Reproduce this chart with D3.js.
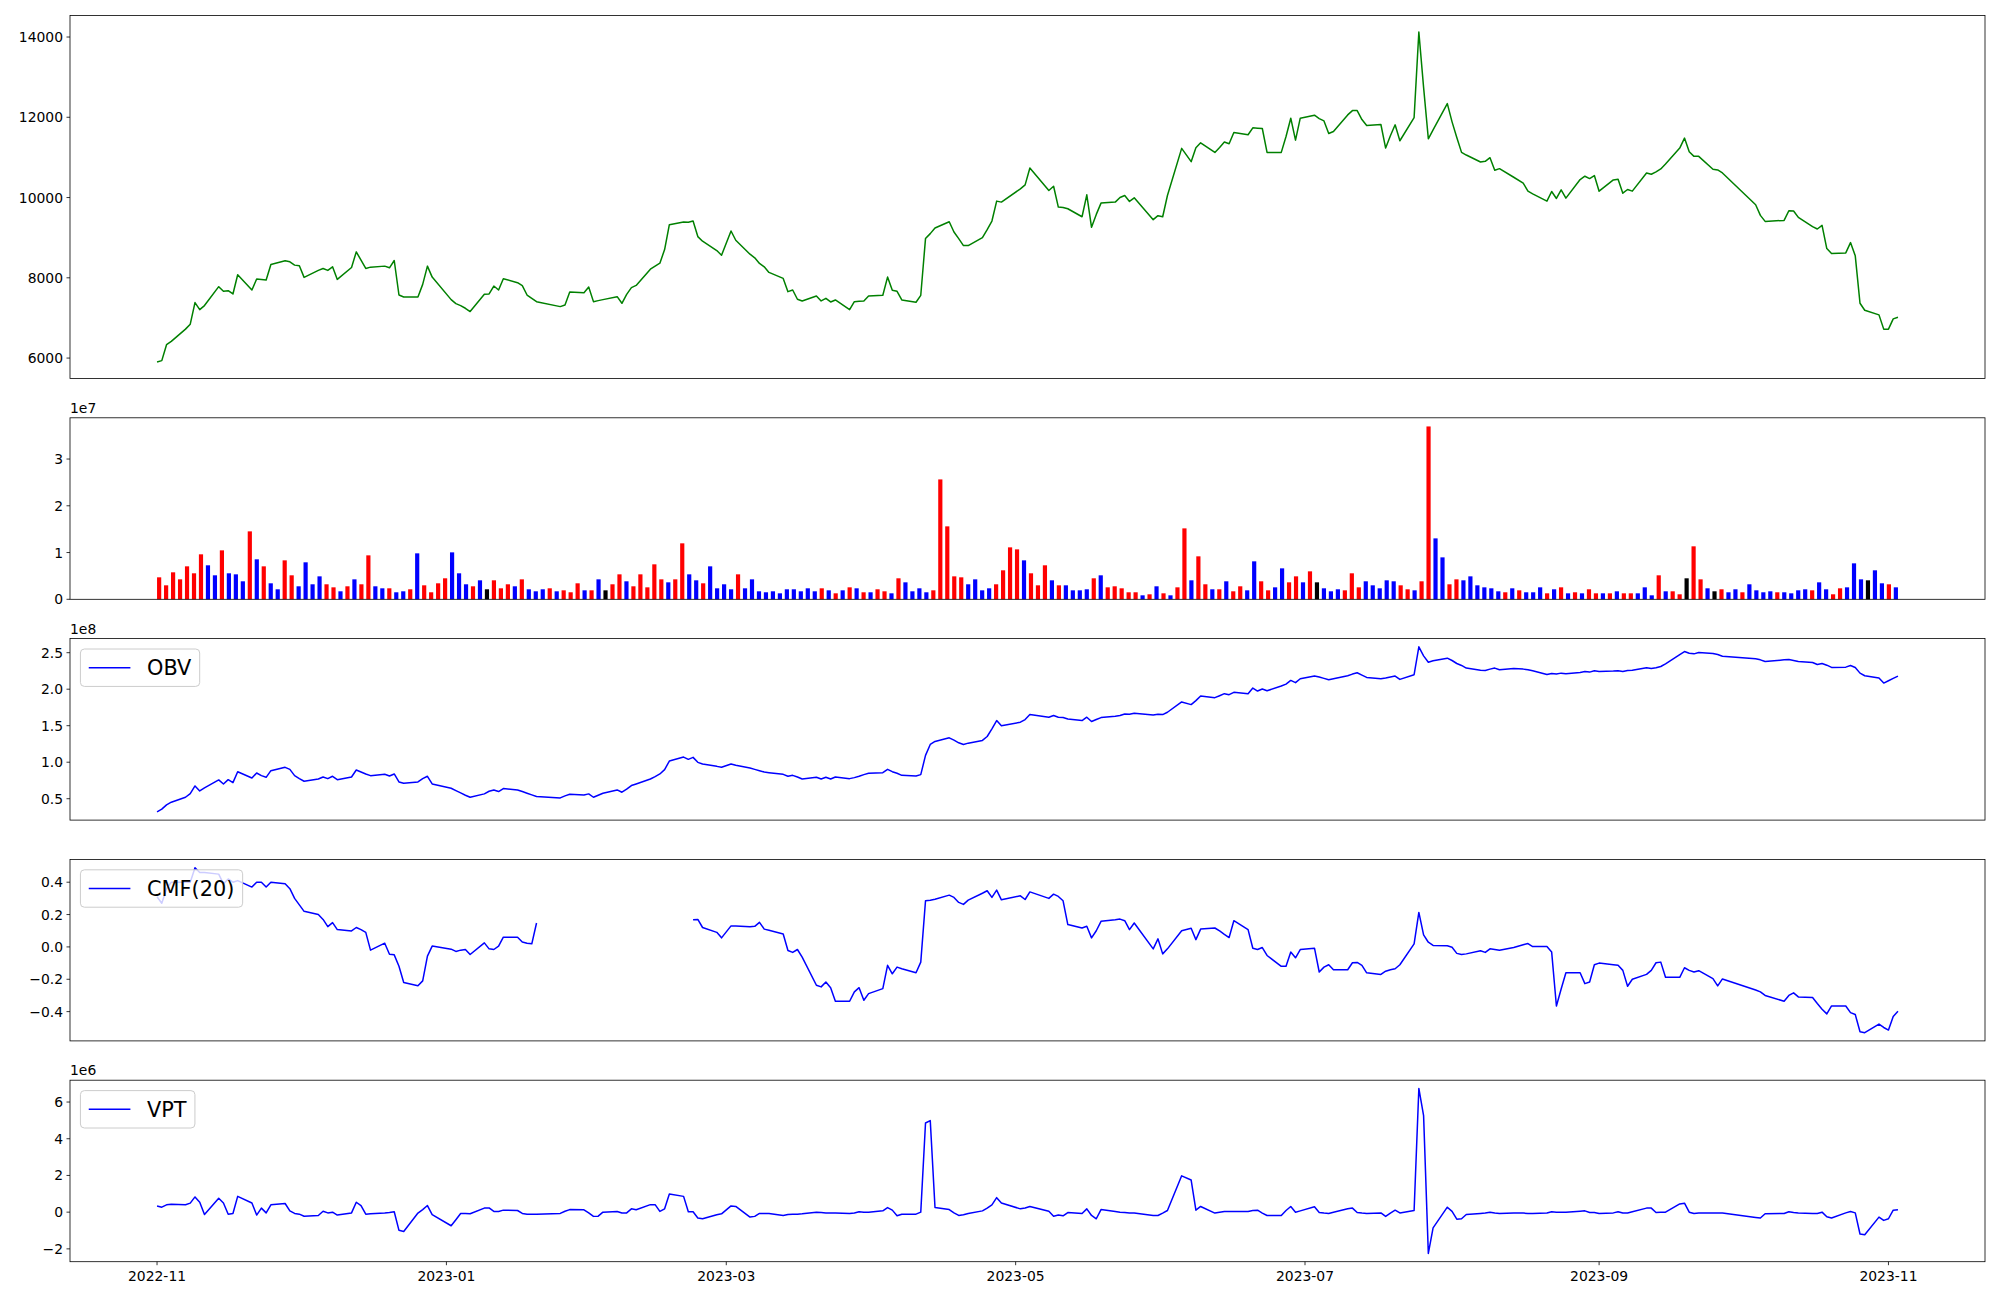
<!DOCTYPE html>
<html><head><meta charset="utf-8">
<script src="https://cdn.jsdelivr.net/npm/d3@7/dist/d3.min.js"></script>
<style>body{margin:0;background:#fff}svg{display:block}text{font-family:"DejaVu Sans",sans-serif}</style>
</head><body><svg id="c" width="2000" height="1300"></svg>
<script>
// ---- calendar (KRX trading days) ----
const startDate = "2022-11-01", endDate = "2023-11-03";
const holidays = ["2022-12-30","2023-01-23","2023-01-24","2023-03-01","2023-05-01","2023-05-05","2023-05-29",
  "2023-06-06","2023-08-15","2023-09-28","2023-09-29","2023-10-02","2023-10-03","2023-10-09"];

// ---- data ----
const close = [5902,5936,6333,6415,6721,6845,7382,7208,7308,7779,
7663,7679,7597,8076,7696,7969,7960,7944,8332,8423,
8398,8316,8299,8010,8184,8233,8184,8274,7960,8258,
8646,8440,8233,8266,8291,8249,8431,7571,7522,7522,
7836,8291,8018,7456,7357,7307,7241,7159,7588,7597,
7795,7696,7977,7878,7803,7571,7489,7406,7282,7324,
7646,7629,7770,7406,7431,7456,7530,7365,7588,7754,
7811,8216,8291,8365,8704,9324,9390,9382,9415,9027,
8911,8679,8563,9167,8936,8589,8498,8357,8274,8134,
7985,7655,7696,7465,7423,7547,7423,7489,7398,7448,
7208,7406,7415,7423,7547,7564,8018,7688,7663,7448,
7390,7564,8977,9101,9241,9398,9142,8977,8803,8803,
9002,9200,9415,9911,9886,10217,10315,10737,10175,10282,
9762,9754,9721,9522,10068,9258,9580,9861,9886,10001,
10051,9903,9994,9449,9548,9522,10051,11225,10894,11241,
11365,11125,11249,11382,11341,11622,11564,11737,11729,11720,
11125,11125,11522,11977,11431,11977,12051,11968,11910,11596,
11646,12059,12167,12167,11944,11795,11820,11233,11539,11812,
11415,11993,14125,12745,11464,11688,12340,11886,11498,11125,
11059,10886,10902,10993,10679,10720,10506,10357,10159,10092,
9911,10150,9977,10192,9985,10448,10531,10473,10547,10159,
10440,10456,10109,10200,10159,10613,10580,10638,10713,10837,
11233,11481,11142,11026,11026,10704,10687,10613,9820,9555,
9406,9431,9671,9663,9506,9274,9216,9307,8729,8605,
8621,8877,8547,7365,7191,7076,6721,6721,6977,7018];

// volume in millions of shares
const volumeM = [4.70,2.99,5.77,4.27,7.05,5.56,9.62,7.27,5.13,10.47,
5.56,5.34,3.85,14.53,8.55,7.05,3.42,2.14,8.33,5.13,
2.78,7.91,3.21,4.91,3.21,2.56,1.71,2.78,4.27,3.21,
9.40,2.78,2.35,2.35,1.50,1.71,2.14,9.83,2.99,1.50,
3.42,4.49,10.04,5.56,3.21,2.78,4.06,2.14,4.06,2.35,
3.21,2.78,4.27,2.14,1.71,2.14,2.35,1.71,1.92,1.50,
3.42,1.92,1.92,4.27,1.92,3.21,5.34,3.85,2.78,5.34,
2.56,7.48,4.27,3.63,4.27,11.97,5.34,4.06,3.42,7.05,
2.35,3.21,2.14,5.34,2.35,4.27,1.71,1.50,1.71,1.28,
2.14,2.14,1.71,2.35,1.71,2.35,1.92,1.28,1.92,2.56,
2.35,1.50,1.50,2.14,1.71,1.28,4.49,3.63,1.71,2.35,
1.50,1.92,25.64,15.60,4.91,4.70,3.21,4.27,1.92,2.35,
3.21,6.20,11.11,10.68,8.33,5.56,2.99,7.27,4.06,2.99,
2.99,1.92,1.92,2.14,4.49,5.13,2.56,2.78,2.35,1.50,
1.50,0.85,1.07,2.78,1.28,0.85,2.56,15.17,4.06,9.19,
3.21,2.14,2.14,3.85,1.71,2.78,1.92,8.12,3.85,1.92,
2.56,6.62,3.63,4.91,3.63,5.98,3.63,2.35,1.71,2.14,
1.92,5.56,2.56,3.85,2.99,2.35,4.06,3.85,2.99,2.14,
1.92,3.85,36.97,13.03,8.97,3.21,4.27,4.06,4.91,2.99,
2.56,2.35,1.71,1.50,2.35,1.92,1.50,1.50,2.56,1.28,
2.14,2.56,1.28,1.50,1.28,2.14,1.28,1.28,1.28,1.71,
1.28,1.28,1.28,2.56,0.85,5.13,1.71,1.71,1.07,4.49,
11.33,4.27,2.35,1.71,2.14,1.50,2.14,1.50,3.21,1.92,
1.50,1.71,1.50,1.50,1.28,1.92,2.14,1.92,3.63,2.14,
1.07,2.35,2.56,7.69,4.27,4.06,6.20,3.42,3.21,2.56];

// r = up day, b = down day, k = unchanged
const direction = ("rrrrrrrbbr"+"bbbrbrbbrr"+"bbbbrrbrbr"+"rbbrbbrbrr"+"rrbbbrbkrr"+
"rbrbbbrbrr"+"rbrbkrrbrr"+"rrrbrrbbrb"+"bbbrbbbbbb"+"bbbbbrbrbr"+
"brbrrbrbbb"+"brrrrrbbbb"+"rrrrbrrrbr"+"bbbbrbrrrr"+"rbrbrbrrbr"+
"rbrbrrbbrr"+"bbrrbrkbbb"+"rrrbbbbbrr"+"brrbbrrbbb"+"bbbrbrbbbr"+
"brbrbrrbrb"+"rrbbbrbrrk"+"rrbkrbbrbb"+"bbrbbbbrbb"+"rrbbbkbbrb").split("");

// OBV in millions
const obvM = [32.0,35.7,41.6,45.2,52.0,57.0,67.5,60.7,64.8,75.7,
70.2,76.1,72.0,87.0,78.4,85.2,81.6,79.3,88.4,93.0,
90.2,81.6,77.5,73.9,77.0,79.8,77.5,80.7,76.1,79.8,
89.3,86.6,83.9,81.6,83.4,81.1,83.9,73.0,71.1,73.0,
77.5,80.7,70.2,64.3,61.1,58.0,54.8,52.0,56.6,60.2,
62.0,59.8,63.9,62.0,59.8,57.5,55.2,53.0,51.1,53.9,
56.1,55.2,56.6,52.0,54.8,57.5,62.0,58.9,63.0,68.0,
70.2,77.0,80.2,83.9,89.8,101.6,107.0,103.9,106.6,99.8,
97.5,94.3,93.0,97.5,95.7,92.0,90.2,88.4,86.6,85.7,
83.4,80.7,82.0,79.8,77.0,79.3,77.0,79.3,77.0,79.8,
77.5,78.9,80.7,83.0,84.8,85.7,90.2,87.0,84.8,82.0,
81.1,83.0,109.3,124.3,128.4,133.4,130.2,126.6,124.3,126.1,
129.8,135.2,145.7,157.0,149.8,154.8,158.4,165.2,161.6,163.9,
161.6,161.1,159.3,157.0,161.6,155.7,158.4,161.1,162.9,163.9,
166.1,165.7,167.0,164.8,165.7,165.2,168.4,182.5,178.9,184.3,
190.7,188.4,191.1,193.9,192.5,195.7,193.9,201.6,197.5,200.2,
197.9,204.3,207.0,212.0,208.9,214.3,218.0,216.6,214.8,212.9,
214.3,218.4,220.7,222.5,219.3,216.1,214.3,215.2,216.6,218.0,
213.4,219.8,258.0,245.7,237.0,238.9,242.5,239.3,235.2,232.5,
228.9,226.1,225.7,227.5,228.9,226.6,228.4,227.5,226.6,225.2,
220.2,221.6,220.7,222.0,221.1,223.0,224.3,223.4,225.2,224.3,
224.8,225.2,224.3,225.7,226.1,229.3,228.4,229.3,231.1,234.8,
247.5,251.6,249.3,248.4,250.2,248.9,247.5,245.2,241.6,240.2,
237.9,240.2,240.7,239.3,237.9,236.6,233.9,235.2,232.9,229.8,
230.2,232.5,229.8,222.0,218.4,215.2,208.4,211.6,214.8,218.0];

const N = null;
const cmf20 = [0.31,0.27,0.36,0.40,0.40,0.40,0.49,0.46,0.46,0.45,
0.39,0.42,0.40,0.41,0.37,0.40,0.40,0.37,0.40,0.39,
0.36,0.30,0.26,0.22,0.20,0.17,0.125,0.15,0.107,0.099,
0.12,0.107,0.09,-0.02,0.023,-0.045,-0.049,-0.12,-0.22,-0.24,
-0.21,-0.057,0.005,-0.014,-0.028,-0.02,-0.016,-0.047,0.025,-0.012,
-0.016,0.005,0.06,0.06,0.03,0.023,0.019,0.148,N,N,
N,N,N,N,N,N,N,N,N,N,
N,N,N,N,N,N,N,N,0.168,0.17,
0.12,0.09,0.056,0.13,0.13,0.125,0.127,0.152,0.11,0.103,
0.08,-0.022,-0.034,-0.016,-0.063,-0.237,-0.247,-0.217,-0.252,-0.336,
-0.336,-0.278,-0.252,-0.33,-0.289,-0.258,-0.114,-0.166,-0.125,-0.135,
-0.16,-0.094,0.285,0.289,0.295,0.32,0.306,0.275,0.263,0.289,
0.332,0.347,0.306,0.351,0.291,0.316,0.293,0.34,0.30,0.326,
0.312,0.285,0.138,0.117,0.128,0.056,0.10,0.158,0.168,0.172,
0.162,0.107,0.148,-0.012,0.05,-0.043,-0.012,0.10,0.115,0.045,
0.11,0.117,0.099,0.078,0.058,0.162,0.107,-0.008,-0.016,-0.004,
-0.053,-0.12,-0.12,-0.032,-0.067,-0.016,-0.008,-0.155,-0.125,-0.11,
-0.141,-0.141,-0.098,-0.096,-0.114,-0.16,-0.17,-0.15,-0.141,-0.135,
-0.11,0.019,0.213,0.074,0.029,0.009,0.007,-0.002,-0.04,-0.047,
-0.043,-0.024,-0.034,-0.012,-0.016,-0.02,-0.004,0.013,0.021,0.002,
0.002,-0.032,-0.365,-0.26,-0.16,-0.16,-0.227,-0.217,-0.11,-0.10,
-0.11,-0.114,-0.145,-0.243,-0.20,-0.17,-0.145,-0.098,-0.094,-0.188,
-0.188,-0.129,-0.145,-0.155,-0.147,-0.196,-0.241,-0.198,-0.266,-0.278,
-0.30,-0.336,-0.30,-0.284,-0.309,-0.313,-0.35,-0.385,-0.414,-0.365,
-0.365,-0.406,-0.418,-0.524,-0.53,-0.477,-0.498,-0.514,-0.43,-0.397];

// VPT in millions
const vptM = [0.34,0.27,0.40,0.43,0.40,0.49,0.83,0.54,-0.13,0.76,
0.50,-0.11,-0.07,0.86,0.50,-0.16,0.22,-0.04,0.40,0.47,
0.07,-0.07,-0.11,-0.22,-0.18,0.05,-0.04,0.00,-0.16,-0.04,
0.54,0.36,-0.11,-0.09,-0.05,-0.02,0.02,-0.99,-1.05,-0.05,
0.14,0.36,-0.13,-0.74,-0.41,-0.07,-0.07,-0.09,0.22,0.23,
0.04,0.04,0.11,0.09,-0.07,-0.11,-0.11,-0.11,-0.07,0.05,
0.14,0.13,-0.04,-0.23,-0.22,0.00,0.04,-0.05,-0.04,0.18,
0.13,0.41,0.41,0.04,0.18,0.99,0.86,0.02,0.02,-0.32,
-0.36,-0.14,-0.09,0.34,0.31,-0.27,-0.23,-0.07,-0.07,-0.07,
-0.18,-0.13,-0.11,-0.11,-0.09,0.00,-0.02,-0.04,-0.04,-0.05,
-0.07,-0.05,0.02,0.00,0.00,0.07,0.25,0.11,-0.20,-0.11,
-0.11,0.00,4.86,4.99,0.25,0.14,-0.04,-0.18,-0.14,-0.07,
0.07,0.22,0.40,0.79,0.50,0.18,0.23,0.31,0.05,-0.22,
-0.16,-0.20,-0.02,-0.07,0.18,-0.18,-0.36,0.14,0.04,0.00,
-0.02,-0.04,-0.05,-0.18,-0.18,-0.05,0.09,1.98,1.75,0.11,
0.31,-0.05,0.00,0.04,0.04,0.04,0.04,0.09,0.11,-0.05,
-0.18,-0.18,0.09,0.31,0.00,0.07,0.29,-0.02,-0.05,-0.07,
0.00,0.18,0.22,-0.02,-0.05,-0.07,-0.04,-0.23,-0.05,0.11,
-0.04,0.09,6.74,5.26,-2.25,-0.86,0.27,0.04,-0.38,-0.36,
-0.13,-0.07,-0.05,0.00,-0.05,-0.07,-0.05,-0.05,-0.07,-0.07,
-0.05,0.02,0.00,0.00,0.00,0.05,0.07,-0.02,-0.02,-0.07,
-0.04,0.02,-0.05,-0.05,0.02,0.22,0.22,-0.02,0.00,0.00,
0.45,0.49,0.00,-0.07,-0.04,-0.04,-0.04,-0.04,-0.29,-0.32,
-0.09,-0.07,0.02,-0.02,-0.04,-0.07,-0.07,0.00,-0.25,-0.32,
-0.04,0.04,-0.04,-1.19,-1.23,-0.27,-0.45,-0.36,0.11,0.13];

// tick values / labels
const priceTicks = [6000,8000,10000,12000,14000];
const volTicks = [0,1,2,3];            // x 1e7
const obvTicks = [0.5,1.0,1.5,2.0,2.5]; // x 1e8
const cmfTicks = [-0.4,-0.2,0.0,0.2,0.4];
const vptTicks = [-2,0,2,4,6];         // x 1e6
const monthTicks = ["2022-11-01","2023-01-01","2023-03-01","2023-05-01","2023-07-01","2023-09-01","2023-11-01"];

// ---- build dates ----
const parse = d3.utcParse("%Y-%m-%d"), fmt = d3.utcFormat("%Y-%m-%d");
const hol = new Set(holidays);
const dates = d3.utcDays(parse(startDate), d3.utcDay.offset(parse(endDate),1))
  .filter(d => d.getUTCDay()!==0 && d.getUTCDay()!==6 && !hol.has(fmt(d)));

// ---- layout ----
const svg = d3.select("#c");
const L = 70, R = 1985;
const unit = 181.5, gap = 39.3, top0 = 15.5;
const ratios = [2,1,1,1,1];
let acc = top0;
const panels = ratios.map(r => { const t = acc, b = acc + r*unit; acc = b + gap; return {t, b}; });
const FS = 13.9;
const minus = s => String(s).replace("-", "\u2212");

function pad(ext){ const s = ext[1]-ext[0]; return [ext[0]-0.05*s, ext[1]+0.05*s]; }

const tExt = d3.extent(dates);
const tSpan = tExt[1]-tExt[0];
const x = d3.scaleUtc().domain([new Date(+tExt[0]-0.05*tSpan), new Date(+tExt[1]+0.05*tSpan)]).range([L, R]);

function yAxis(p, y, ticks, fmtF){
  const g = svg.append("g");
  ticks.forEach(v => {
    const yy = y(v);
    g.append("line").attr("x1", L-3.5).attr("x2", L).attr("y1", yy).attr("y2", yy).attr("stroke","#000").attr("stroke-width",0.8);
    g.append("text").attr("x", L-7).attr("y", yy+5).attr("text-anchor","end").attr("font-size",FS).text(fmtF(v));
  });
}
function frame(p){
  svg.append("rect").attr("x",L).attr("y",p.t).attr("width",R-L).attr("height",p.b-p.t)
    .attr("fill","none").attr("stroke","#000").attr("stroke-width",0.8);
}
function offsetText(p, s){
  svg.append("text").attr("x", L).attr("y", p.t-5).attr("font-size",FS).text(s);
}
function legend(p, label){
  const fs = 20.83, bp = 0.4*fs, hl = 2*fs, htp = 0.8*fs;
  const x0 = L + 0.5*fs, y0 = p.t + 0.5*fs, h = 37.4;
  const g = svg.append("g");
  const rect = g.append("rect").attr("x",x0).attr("y",y0).attr("height",h).attr("rx",4).attr("ry",4)
    .attr("fill","#fff").attr("fill-opacity",0.8).attr("stroke","#cccccc").attr("stroke-width",1);
  g.append("line").attr("x1",x0+bp).attr("x2",x0+bp+hl).attr("y1",y0+h/2).attr("y2",y0+h/2)
    .attr("stroke","blue").attr("stroke-width",1.5);
  const t = g.append("text").attr("x",x0+bp+hl+htp).attr("y",y0+h/2+7.5).attr("font-size",fs).text(label);
  const w = t.node().getComputedTextLength();
  rect.attr("width", bp+hl+htp+w+bp);
}
function linePanel(p, values, color, ticks, fmtF, scaleF){
  const y = d3.scaleLinear().domain(pad(d3.extent(values.filter(v=>v!==null)))).range([p.b, p.t]);
  const line = d3.line().defined(d => d[1]!==null).x(d => x(d[0])).y(d => y(d[1]));
  svg.append("path").datum(dates.map((d,i)=>[d, values[i]])).attr("d", line)
    .attr("fill","none").attr("stroke",color).attr("stroke-width",1.5).attr("stroke-linejoin","round");
  yAxis(p, v => y(scaleF(v)), ticks, fmtF);
  return y;
}

// Panel 1: price
linePanel(panels[0], close, "green", priceTicks, v => String(v), v => v);
frame(panels[0]);

// Panel 2: volume (plotted by bar index)
{
  const p = panels[1];
  const n = volumeM.length, w = 0.6;
  const lo = -w/2, hi = n-1+w/2, s = hi-lo;
  const xb = d3.scaleLinear().domain([lo-0.05*s, hi+0.05*s]).range([L, R]);
  const y = d3.scaleLinear().domain([0, d3.max(volumeM)*1.05]).range([p.b, p.t]);
  const col = {r:"red", b:"blue", k:"black"};
  svg.append("g").selectAll("rect").data(volumeM).join("rect")
    .attr("x",(v,i)=>xb(i-w/2)).attr("width",xb(w)-xb(0))
    .attr("y",v=>y(v)).attr("height",v=>y(0)-y(v))
    .attr("fill",(v,i)=>col[direction[i]]);
  yAxis(p, v => y(v*10), volTicks, v => String(v));
  frame(p);
  offsetText(p, "1e7");
}

// Panel 3: OBV
linePanel(panels[2], obvM, "blue", obvTicks, v => v.toFixed(1), v => v*100);
frame(panels[2]); offsetText(panels[2], "1e8"); legend(panels[2], "OBV");

// Panel 4: CMF
linePanel(panels[3], cmf20, "blue", cmfTicks, v => minus(v.toFixed(1)), v => v);
frame(panels[3]); legend(panels[3], "CMF(20)");

// Panel 5: VPT
linePanel(panels[4], vptM, "blue", vptTicks, v => minus(v), v => v);
frame(panels[4]); offsetText(panels[4], "1e6"); legend(panels[4], "VPT");

// x axis on bottom panel
{
  const p = panels[4];
  monthTicks.forEach(s => {
    const xx = x(parse(s));
    svg.append("line").attr("x1",xx).attr("x2",xx).attr("y1",p.b).attr("y2",p.b+3.5).attr("stroke","#000").attr("stroke-width",0.8);
    svg.append("text").attr("x",xx).attr("y",p.b+19.5).attr("text-anchor","middle").attr("font-size",FS).text(s.slice(0,7));
  });
}
</script></body></html>
